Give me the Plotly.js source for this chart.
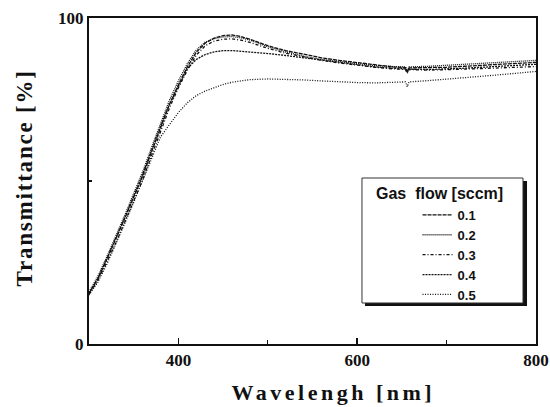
<!DOCTYPE html>
<html>
<head>
<meta charset="utf-8">
<script src="https://cdn.plot.ly/plotly-3.0.1.min.js"></script>
<style>
  html, body { margin: 0; padding: 0; background: #fff; }
  #chart { width: 550px; height: 407px; }
</style>
</head>
<body>
<div id="chart"></div>
<script>
// Wavelength grid (nm)
const wavelength = [300,310,320,330,340,350,360,370,380,390,400,410,420,430,440,450,460,470,480,500,520,540,560,580,600,620,640,654,656,658,680,700,720,740,760,780,800];

// Transmittance (%) for each gas flow (sccm)
const t01 = [15.5,20.0,26.0,32.0,38.5,45.0,51.5,59.0,66.5,73.5,79.5,85.0,89.5,92.3,93.8,94.6,94.8,94.3,93.5,91.5,90.0,88.8,87.8,87.0,86.3,85.5,85.0,84.8,83.6,84.7,84.7,84.9,85.2,85.5,85.8,86.1,86.4];
const t02 = [16.0,20.8,26.8,33.0,39.5,46.2,52.8,60.3,67.8,74.8,80.7,86.0,90.2,92.6,93.7,94.2,94.3,93.9,93.2,91.2,89.6,88.3,87.3,86.6,86.0,85.4,85.1,85.0,83.8,85.0,85.2,85.5,85.8,86.1,86.4,86.7,87.0];
const t03 = [15.2,19.5,25.2,31.0,37.4,43.8,50.3,57.8,65.3,72.4,78.6,84.0,88.6,91.5,92.9,93.5,93.6,93.2,92.5,90.7,89.2,88.0,87.0,86.2,85.5,84.9,84.4,84.2,83.0,84.2,84.0,84.1,84.3,84.5,84.7,84.9,85.1];
const t04 = [15.6,20.2,26.2,32.3,38.8,45.4,52.0,59.4,66.8,73.5,79.2,84.5,87.3,88.8,89.6,90.0,90.0,89.8,89.6,89.1,88.5,87.8,87.0,86.2,85.6,85.0,84.6,84.4,83.3,84.3,84.2,84.3,84.6,84.9,85.2,85.5,85.8];
const t05 = [15.0,19.0,24.5,30.5,37.0,43.5,50.0,57.0,63.5,67.3,71.0,74.0,76.2,77.6,78.7,79.6,80.3,80.8,81.1,81.3,81.2,81.0,80.7,80.4,80.2,80.1,80.2,80.4,78.9,80.4,80.8,81.2,81.6,82.1,82.6,83.1,83.6];

const seriesNames = ['0.1','0.2','0.3','0.4','0.5'];
const seriesData = [t01,t02,t03,t04,t05];
const seriesDash = ['4px,1px','1px,1px','3px,2px,1px,2px','2px,1px','1px,1.5px'];

const xTickVals = [400,600,800];
const xTickText = ['400','600','800'];
const yTickVals = [0,100];
const yTickText = ['0','100'];

const legendTitle = 'Gas\u00a0 flow [sccm]';
const xTitle = 'Wavelengh [nm]';
const yTitle = 'Transmittance [%]';

const traces = seriesNames.map((n,i) => ({
  x: wavelength, y: seriesData[i], name: n, type: 'scatter', mode: 'lines',
  line: {color: '#111', width: 1.3, dash: seriesDash[i]}
}));

const serif = '"Liberation Serif", "Times New Roman", serif';
const sans = '"Liberation Sans", Arial, sans-serif';

const layout = {
  width: 550, height: 407,
  margin: {l: 89, r: 14, t: 18, b: 63},
  paper_bgcolor: '#fff', plot_bgcolor: '#fff',
  showlegend: true,
  legend: {
    x: 0.735, y: 0.442, xanchor: 'left', yanchor: 'top',
    bgcolor: 'rgba(0,0,0,0)', borderwidth: 0,
    font: {family: sans, size: 13, color: '#111', weight: 'bold'},
    itemwidth: 30, tracegroupgap: 0
  },
  xaxis: {
    range: [300, 800], tickvals: xTickVals, ticktext: xTickText,
    ticks: 'inside', ticklen: 6, tickwidth: 1.5, tickcolor: '#111',
    minor: {tickvals: [500,700], ticks: 'inside', ticklen: 4, tickwidth: 1.2, tickcolor: '#111'},
    showgrid: false, zeroline: false,
    showline: true, mirror: true, linecolor: '#111', linewidth: 2,
    tickfont: {family: serif, size: 17, color: '#111', weight: 'bold'}
  },
  yaxis: {
    range: [0, 100], tickvals: yTickVals, ticktext: yTickText,
    ticks: '',
    minor: {tickvals: [50], ticks: 'inside', ticklen: 3, tickwidth: 1.2, tickcolor: '#111'},
    showgrid: false, zeroline: false,
    showline: true, mirror: true, linecolor: '#111', linewidth: 2,
    tickfont: {family: serif, size: 17, color: '#111', weight: 'bold'}
  },
  shapes: [
    {type: 'rect', xref: 'paper', yref: 'paper', x0: 0.6174, x1: 0.9799, y0: 0.1166, y1: 0.5,
     fillcolor: '#111', line: {width: 0}, layer: 'above'},
    {type: 'rect', xref: 'paper', yref: 'paper', x0: 0.6107, x1: 0.9709, y0: 0.1258, y1: 0.5092,
     fillcolor: '#fff', line: {color: '#333', width: 1}, layer: 'above'}
  ],
  annotations: [
    {text: xTitle, xref: 'paper', yref: 'paper', x: 0.546, y: -0.148, xanchor: 'center', yanchor: 'middle',
     showarrow: false, font: {family: serif, size: 22, color: '#111', weight: 'bold'}},
    {text: yTitle, xref: 'paper', yref: 'paper', x: -0.145, y: 0.509, xanchor: 'center', yanchor: 'middle',
     textangle: -90, showarrow: false, font: {family: serif, size: 23, color: '#111', weight: 'bold'}},
    {text: legendTitle, xref: 'paper', yref: 'paper', x: 0.785, y: 0.462, xanchor: 'center', yanchor: 'middle',
     showarrow: false, font: {family: sans, size: 16, color: '#111', weight: 'bold'}}
  ]
};

Plotly.newPlot('chart', traces, layout, {staticPlot: true, displayModeBar: false}).then(() => {
  const a0 = document.querySelector('.annotation[data-index="0"] text');
  const a1 = document.querySelector('.annotation[data-index="1"] text');
  if (a0) a0.style.letterSpacing = '3.5px';
  if (a1) a1.style.letterSpacing = '1.8px';
});
</script>
</body>
</html>
